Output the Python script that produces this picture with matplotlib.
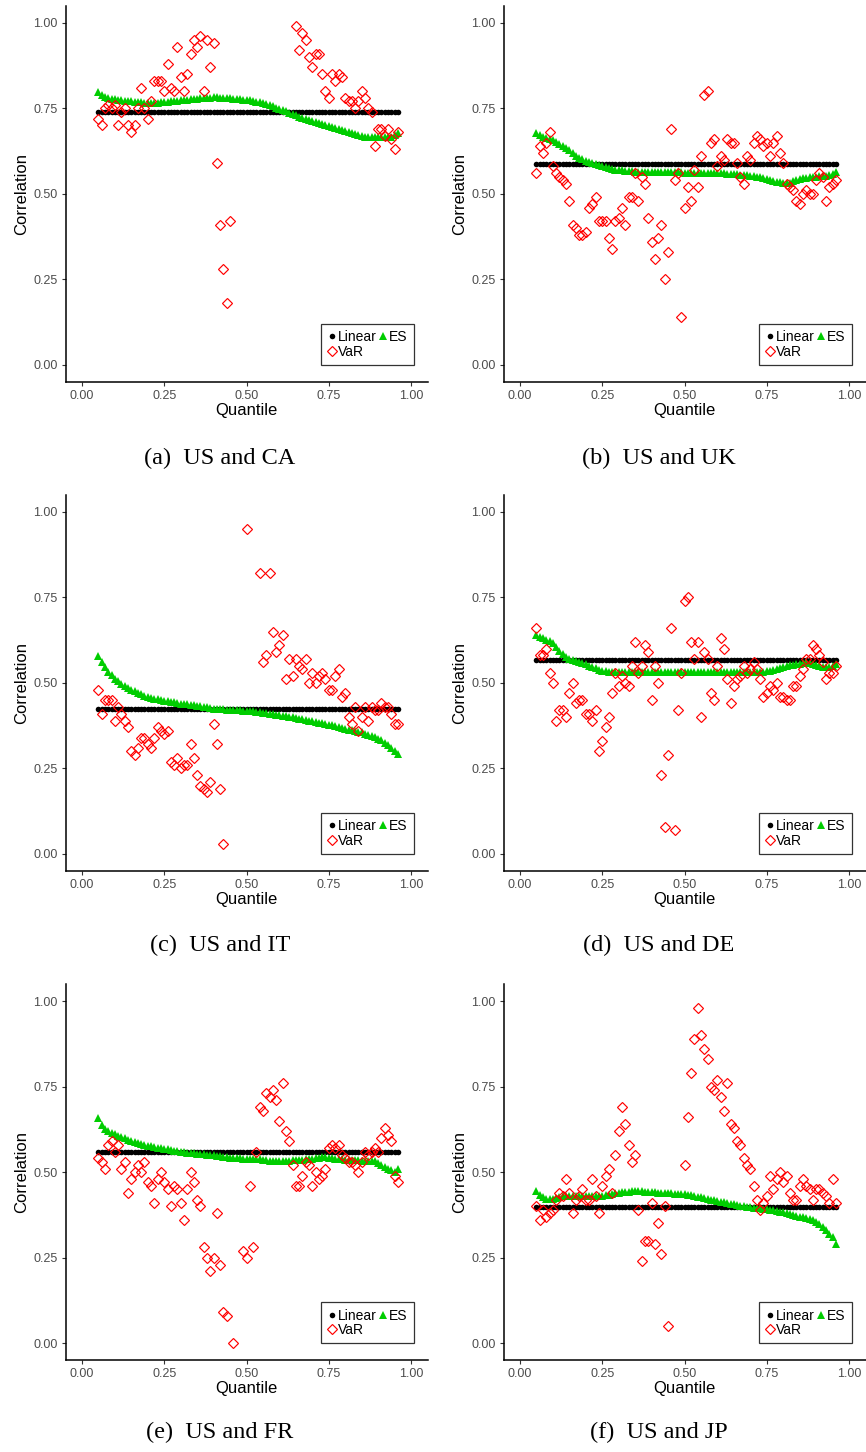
import numpy as np
import matplotlib
matplotlib.use('Agg')
import matplotlib.pyplot as plt

nan = np.nan

# quantile grid shared by every pair
quantile = np.round(np.arange(0.05, 0.965, 0.01), 2)

# linear (Pearson) correlation, constant over quantiles
linear_ca = 0.740
linear_uk = 0.588
linear_it = 0.423
linear_de = 0.566
linear_fr = 0.558
linear_jp = 0.399

# VaR based correlation, one value per quantile (nan = not available)
var_ca = [0.72, 0.70, 0.75, 0.76, 0.75, 0.76, 0.70, 0.74, 0.75, 0.70,
          0.68, 0.70, 0.75, 0.81, 0.75, 0.72, 0.77, 0.83, 0.83, 0.83,
          0.80, 0.88, 0.81, 0.80, 0.93, 0.84, 0.80, 0.85, 0.91, 0.95,
          0.93, 0.96, 0.80, 0.95, 0.87, 0.94, 0.59, 0.41, 0.28, 0.18,
          0.42, nan, nan, nan, nan, nan, nan, nan, nan, nan,
          nan, nan, nan, nan, nan, nan, nan, nan, nan, nan,
          0.99, 0.92, 0.97, 0.95, 0.90, 0.87, 0.91, 0.91, 0.85, 0.80,
          0.78, 0.85, 0.83, 0.85, 0.84, 0.78, 0.77, 0.77, 0.75, 0.77,
          0.80, 0.78, 0.75, 0.74, 0.64, 0.69, 0.69, 0.67, 0.69, 0.66,
          0.63, 0.68]
var_uk = [0.56, 0.64, 0.62, 0.65, 0.68, 0.58, 0.56, 0.55, 0.54, 0.53,
          0.48, 0.41, 0.40, 0.38, 0.38, 0.39, 0.46, 0.47, 0.49, 0.42,
          0.42, 0.42, 0.37, 0.34, 0.42, 0.43, 0.46, 0.41, 0.49, 0.49,
          0.56, 0.48, 0.55, 0.53, 0.43, 0.36, 0.31, 0.37, 0.41, 0.25,
          0.33, 0.69, 0.54, 0.56, 0.14, 0.46, 0.52, 0.48, 0.57, 0.52,
          0.61, 0.79, 0.80, 0.65, 0.66, 0.58, 0.61, 0.60, 0.66, 0.65,
          0.65, 0.59, 0.55, 0.53, 0.61, 0.60, 0.65, 0.67, 0.66, 0.64,
          0.65, 0.61, 0.65, 0.67, 0.62, 0.59, 0.53, 0.52, 0.51, 0.48,
          0.47, 0.50, 0.51, 0.50, 0.50, 0.54, 0.56, 0.55, 0.48, 0.52,
          0.53, 0.54]
var_it = [0.48, 0.41, 0.45, 0.45, 0.45, 0.39, 0.43, 0.41, 0.39, 0.37,
          0.30, 0.29, 0.31, 0.34, 0.34, 0.32, 0.31, 0.34, 0.37, 0.36,
          0.35, 0.36, 0.27, 0.26, 0.28, 0.25, 0.26, 0.26, 0.32, 0.28,
          0.23, 0.20, 0.19, 0.18, 0.21, 0.38, 0.32, 0.19, 0.03, nan,
          nan, nan, nan, nan, nan, 0.95, nan, nan, nan, 0.82,
          0.56, 0.58, 0.82, 0.65, 0.59, 0.61, 0.64, 0.51, 0.57, 0.52,
          0.57, 0.55, 0.54, 0.57, 0.50, 0.53, 0.50, 0.52, 0.53, 0.51,
          0.48, 0.48, 0.52, 0.54, 0.46, 0.47, 0.40, 0.38, 0.43, 0.36,
          0.40, 0.43, 0.39, 0.43, 0.42, 0.42, 0.44, 0.43, 0.43, 0.41,
          0.38, 0.38]
var_de = [0.66, 0.58, 0.58, 0.60, 0.53, 0.50, 0.39, 0.42, 0.42, 0.40,
          0.47, 0.50, 0.44, 0.45, 0.45, 0.41, 0.41, 0.39, 0.42, 0.30,
          0.33, 0.37, 0.40, 0.47, 0.53, 0.49, 0.52, 0.50, 0.49, 0.55,
          0.62, 0.53, 0.55, 0.61, 0.59, 0.45, 0.55, 0.50, 0.23, 0.08,
          0.29, 0.66, 0.07, 0.42, 0.53, 0.74, 0.75, 0.62, 0.57, 0.62,
          0.40, 0.59, 0.57, 0.47, 0.45, 0.55, 0.63, 0.60, 0.51, 0.44,
          0.49, 0.51, 0.52, 0.55, 0.53, 0.54, 0.56, 0.54, 0.51, 0.46,
          0.47, 0.49, 0.48, 0.50, 0.46, 0.46, 0.45, 0.45, 0.49, 0.49,
          0.52, 0.54, 0.57, 0.57, 0.61, 0.60, 0.58, 0.56, 0.51, 0.53,
          0.53, 0.55]
var_fr = [0.54, 0.53, 0.51, 0.58, 0.59, 0.56, 0.58, 0.51, 0.53, 0.44,
          0.48, 0.50, 0.52, 0.50, 0.53, 0.47, 0.46, 0.41, 0.48, 0.50,
          0.47, 0.45, 0.40, 0.46, 0.45, 0.41, 0.36, 0.45, 0.50, 0.47,
          0.42, 0.40, 0.28, 0.25, 0.21, 0.25, 0.38, 0.23, 0.09, 0.08,
          nan, 0.00, nan, nan, 0.27, 0.25, 0.46, 0.28, 0.56, 0.69,
          0.68, 0.73, 0.72, 0.74, 0.71, 0.65, 0.76, 0.62, 0.59, 0.52,
          0.46, 0.46, 0.49, 0.53, 0.52, 0.46, 0.50, 0.48, 0.49, 0.51,
          0.57, 0.58, 0.57, 0.58, 0.55, 0.54, 0.53, 0.53, 0.52, 0.50,
          0.53, 0.56, 0.55, 0.56, 0.57, 0.56, 0.60, 0.63, 0.61, 0.59,
          0.49, 0.47]
var_jp = [0.40, 0.36, 0.39, 0.37, 0.38, 0.39, 0.42, 0.44, 0.43, 0.48,
          0.44, 0.38, 0.42, 0.43, 0.45, 0.42, 0.42, 0.48, 0.43, 0.38,
          0.46, 0.49, 0.51, 0.44, 0.55, 0.62, 0.69, 0.64, 0.58, 0.53,
          0.55, 0.39, 0.24, 0.30, 0.30, 0.41, 0.29, 0.35, 0.26, 0.40,
          0.05, nan, nan, nan, nan, 0.52, 0.66, 0.79, 0.89, 0.98,
          0.90, 0.86, 0.83, 0.75, 0.74, 0.77, 0.72, 0.68, 0.76, 0.64,
          0.63, 0.59, 0.58, 0.54, 0.52, 0.51, 0.46, 0.42, 0.39, 0.41,
          0.43, 0.49, 0.45, 0.48, 0.50, 0.47, 0.49, 0.44, 0.42, 0.42,
          0.46, 0.48, 0.46, 0.45, 0.42, 0.45, 0.45, 0.44, 0.43, 0.41,
          0.48, 0.41]

# ES based correlation
es_ca = [0.797, 0.788, 0.782, 0.780, 0.778, 0.776, 0.775, 0.773, 0.772, 0.771,
         0.770, 0.769, 0.768, 0.767, 0.766, 0.766, 0.766, 0.766, 0.766, 0.767,
         0.768, 0.769, 0.770, 0.771, 0.772, 0.773, 0.774, 0.775, 0.776, 0.777,
         0.778, 0.779, 0.780, 0.781, 0.781, 0.782, 0.782, 0.781, 0.781, 0.780,
         0.779, 0.778, 0.777, 0.776, 0.775, 0.774, 0.773, 0.771, 0.769, 0.767,
         0.765, 0.762, 0.759, 0.756, 0.752, 0.748, 0.745, 0.741, 0.737, 0.733,
         0.729, 0.725, 0.722, 0.719, 0.716, 0.713, 0.710, 0.707, 0.704, 0.701,
         0.698, 0.695, 0.692, 0.689, 0.686, 0.683, 0.680, 0.677, 0.674, 0.671,
         0.668, 0.666, 0.665, 0.665, 0.666, 0.667, 0.666, 0.665, 0.665, 0.667,
         0.672, 0.678]
es_uk = [0.677, 0.672, 0.667, 0.663, 0.660, 0.656, 0.651, 0.646, 0.641, 0.635,
         0.627, 0.620, 0.612, 0.606, 0.601, 0.597, 0.594, 0.590, 0.586, 0.583,
         0.580, 0.577, 0.575, 0.573, 0.571, 0.570, 0.569, 0.568, 0.567, 0.566,
         0.565, 0.565, 0.564, 0.564, 0.563, 0.563, 0.563, 0.563, 0.563, 0.563,
         0.563, 0.563, 0.563, 0.563, 0.563, 0.562, 0.562, 0.562, 0.562, 0.562,
         0.562, 0.561, 0.561, 0.561, 0.560, 0.560, 0.560, 0.560, 0.559, 0.559,
         0.558, 0.557, 0.556, 0.555, 0.554, 0.553, 0.551, 0.549, 0.548, 0.546,
         0.544, 0.541, 0.539, 0.536, 0.534, 0.532, 0.531, 0.533, 0.537, 0.540,
         0.543, 0.545, 0.547, 0.548, 0.549, 0.550, 0.551, 0.551, 0.552, 0.554,
         0.558, 0.565]
es_it = [0.578, 0.562, 0.545, 0.533, 0.522, 0.512, 0.504, 0.497, 0.491, 0.486,
         0.480, 0.475, 0.470, 0.466, 0.463, 0.460, 0.457, 0.454, 0.452, 0.450,
         0.448, 0.446, 0.444, 0.443, 0.441, 0.439, 0.438, 0.437, 0.436, 0.435,
         0.433, 0.431, 0.430, 0.428, 0.426, 0.425, 0.424, 0.423, 0.423, 0.422,
         0.421, 0.421, 0.420, 0.420, 0.419, 0.418, 0.418, 0.417, 0.416, 0.415,
         0.413, 0.412, 0.410, 0.409, 0.407, 0.406, 0.404, 0.403, 0.401, 0.399,
         0.397, 0.395, 0.393, 0.391, 0.390, 0.388, 0.386, 0.384, 0.382, 0.380,
         0.378, 0.376, 0.373, 0.371, 0.369, 0.366, 0.363, 0.361, 0.359, 0.357,
         0.355, 0.352, 0.349, 0.346, 0.342, 0.337, 0.332, 0.325, 0.318, 0.309,
         0.300, 0.291]
es_de = [0.640, 0.634, 0.630, 0.626, 0.622, 0.615, 0.605, 0.592, 0.583, 0.576,
         0.571, 0.567, 0.564, 0.560, 0.557, 0.554, 0.550, 0.546, 0.542, 0.539,
         0.536, 0.534, 0.533, 0.532, 0.532, 0.532, 0.532, 0.532, 0.532, 0.532,
         0.532, 0.532, 0.532, 0.532, 0.532, 0.532, 0.532, 0.532, 0.532, 0.532,
         0.532, 0.532, 0.532, 0.533, 0.533, 0.533, 0.533, 0.533, 0.533, 0.533,
         0.533, 0.533, 0.532, 0.532, 0.532, 0.532, 0.532, 0.532, 0.532, 0.532,
         0.532, 0.532, 0.532, 0.532, 0.532, 0.532, 0.532, 0.532, 0.532, 0.533,
         0.534, 0.536, 0.538, 0.540, 0.542, 0.545, 0.548, 0.551, 0.553, 0.555,
         0.556, 0.558, 0.560, 0.559, 0.556, 0.551, 0.548, 0.547, 0.547, 0.547,
         0.549, 0.554]
es_fr = [0.657, 0.638, 0.626, 0.619, 0.615, 0.611, 0.607, 0.603, 0.599, 0.595,
         0.591, 0.588, 0.584, 0.581, 0.579, 0.576, 0.575, 0.573, 0.572, 0.570,
         0.569, 0.567, 0.565, 0.563, 0.561, 0.559, 0.558, 0.557, 0.556, 0.555,
         0.554, 0.553, 0.552, 0.551, 0.550, 0.549, 0.547, 0.546, 0.544, 0.543,
         0.542, 0.541, 0.540, 0.540, 0.539, 0.538, 0.538, 0.538, 0.537, 0.537,
         0.536, 0.535, 0.534, 0.534, 0.534, 0.534, 0.534, 0.534, 0.534, 0.535,
         0.535, 0.536, 0.536, 0.537, 0.538, 0.539, 0.541, 0.542, 0.543, 0.543,
         0.542, 0.541, 0.539, 0.538, 0.537, 0.536, 0.536, 0.535, 0.535, 0.535,
         0.534, 0.534, 0.534, 0.533, 0.532, 0.528, 0.522, 0.515, 0.510, 0.506,
         0.501, 0.508]
es_jp = [0.446, 0.434, 0.426, 0.422, 0.421, 0.422, 0.425, 0.428, 0.430, 0.431,
         0.431, 0.431, 0.431, 0.431, 0.431, 0.431, 0.431, 0.431, 0.431, 0.431,
         0.431, 0.432, 0.434, 0.436, 0.438, 0.440, 0.441, 0.442, 0.443, 0.444,
         0.444, 0.444, 0.444, 0.443, 0.442, 0.441, 0.441, 0.440, 0.440, 0.439,
         0.439, 0.438, 0.437, 0.437, 0.436, 0.436, 0.434, 0.432, 0.430, 0.428,
         0.426, 0.424, 0.422, 0.420, 0.418, 0.416, 0.414, 0.412, 0.410, 0.408,
         0.406, 0.404, 0.402, 0.400, 0.399, 0.398, 0.396, 0.395, 0.394, 0.393,
         0.391, 0.390, 0.388, 0.387, 0.385, 0.383, 0.381, 0.379, 0.376, 0.373,
         0.370, 0.368, 0.366, 0.363, 0.360, 0.354, 0.348, 0.340, 0.331, 0.320,
         0.311, 0.291]

captions = ['(a)  US and CA', '(b)  US and UK', '(c)  US and IT',
            '(d)  US and DE', '(e)  US and FR', '(f)  US and JP']
panels = [(linear_ca, var_ca, es_ca), (linear_uk, var_uk, es_uk),
          (linear_it, var_it, es_it), (linear_de, var_de, es_de),
          (linear_fr, var_fr, es_fr), (linear_jp, var_jp, es_jp)]

plt.rcParams['font.family'] = ['Liberation Sans', 'DejaVu Sans']

W, H = 866, 1452
fig = plt.figure(figsize=(W / 100, H / 100), dpi=100)

# axes boxes in pixels: left, top, width, height
col_left = [65.5, 503.5]
row_top = [5.6, 494.6, 983.9]
ax_w, ax_h = 362.0, 376.5
cap_x = [220, 659]
cap_y = [458, 945, 1432]

ticks = [0.0, 0.25, 0.5, 0.75, 1.0]
tick_lab = ['0.00', '0.25', '0.50', '0.75', '1.00']

for i, (lin, var, es) in enumerate(panels):
    r, c = divmod(i, 2)
    ax = fig.add_axes([col_left[c] / W, 1 - (row_top[r] + ax_h) / H, ax_w / W, ax_h / H])
    ax.plot(quantile, np.full(len(quantile), lin), 'o', color='black', ms=4.0,
            mew=0, label='Linear', zorder=2)
    ax.plot(quantile, es, '^', color='#00CD00', ms=5.2, mew=0, label='ES', zorder=3)
    ax.plot(quantile, var, 'D', mfc='none', mec='red', ms=4.7, mew=0.85,
            label='VaR', zorder=4)
    ax.set_xlim(-0.05, 1.05)
    ax.set_ylim(-0.05, 1.05)
    ax.set_xticks(ticks)
    ax.set_xticklabels(tick_lab)
    ax.set_yticks(ticks)
    ax.set_yticklabels(tick_lab)
    for s in ['top', 'right']:
        ax.spines[s].set_visible(False)
    for s in ['left', 'bottom']:
        ax.spines[s].set_linewidth(1.1)
        ax.spines[s].set_color('black')
    ax.tick_params(direction='out', length=3, width=0.8, color='#333333',
                   labelsize=9, labelcolor='#4D4D4D', pad=2.5)
    ax.set_xlabel('Quantile', fontsize=12, labelpad=1)
    ax.set_ylabel('Correlation', fontsize=12, labelpad=3)

    handles, labels = ax.get_legend_handles_labels()
    order = [0, 2, 1]  # Linear, VaR in first column, ES in second
    leg = ax.legend([handles[k] for k in order], [labels[k] for k in order],
                    ncol=2, loc='lower right', bbox_to_anchor=(0.963, 0.045),
                    borderaxespad=0, fontsize=10, frameon=True, fancybox=False,
                    edgecolor='black', handlelength=0.6, handletextpad=0.15,
                    columnspacing=0.15, labelspacing=0.05, borderpad=0.45)
    leg.get_frame().set_linewidth(0.9)

    fig.text(cap_x[c] / W, 1 - cap_y[r] / H, captions[i], ha='center', va='center',
             fontsize=17.5, family=['Liberation Serif', 'DejaVu Serif'])

fig.savefig('out.png', dpi=100)
